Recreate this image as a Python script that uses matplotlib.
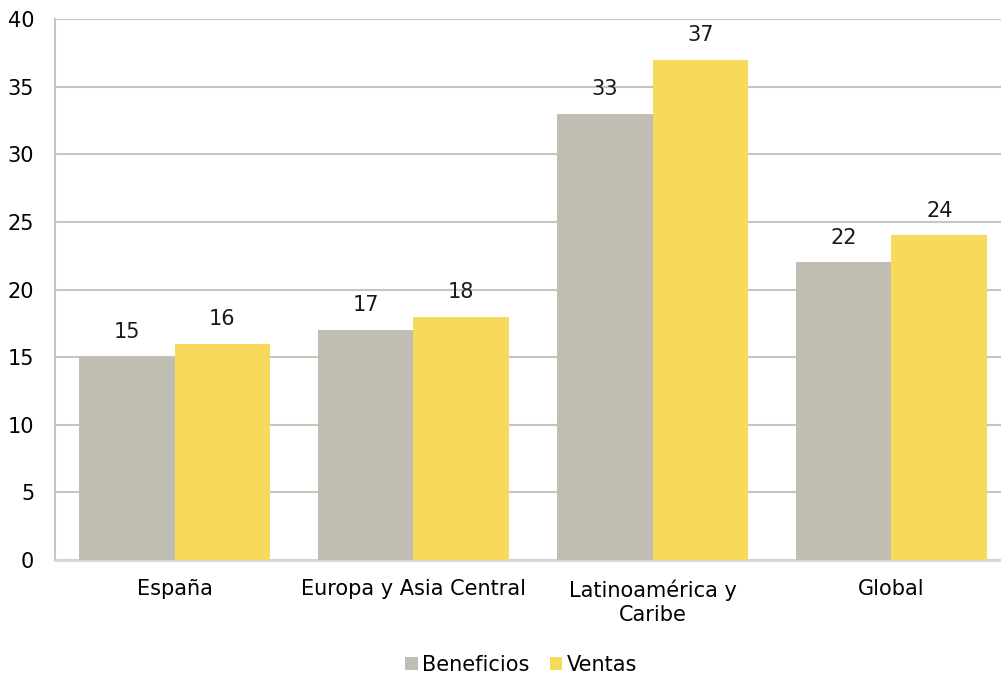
import matplotlib.pyplot as plt
import numpy as np

regions = ["España", "Europa y Asia Central", "Latinoamérica y\nCaribe", "Global"]
beneficios = [15, 17, 33, 22]
ventas = [16, 18, 37, 24]

plt.rcParams["font.family"] = "DejaVu Sans"

fig = plt.figure(figsize=(10.01, 6.79), dpi=100)
ax = fig.add_axes([55 / 1001, 119 / 679, 956 / 1001, 541 / 679])

x = np.arange(len(regions))
w = 0.4
b1 = ax.bar(x - w / 2, beneficios, w, color="#c0bdb2", label="Beneficios", zorder=3)
b2 = ax.bar(x + w / 2, ventas, w, color="#f7da5c", label="Ventas", zorder=3)

for bars in (b1, b2):
    for bar in bars:
        h = bar.get_height()
        ax.text(bar.get_x() + bar.get_width() / 2, h + 1.1, f"{h:g}",
                ha="center", va="bottom", fontsize=15, color="#1a1a1a")

ax.set_xlim(-0.5, 3.5)
ax.set_ylim(0, 40)
ax.set_yticks(range(0, 41, 5))
ax.set_xticks(x)
ax.set_xticklabels(regions, fontsize=15, linespacing=1.25)
ax.tick_params(axis="y", labelsize=15, length=0, pad=15)
ax.tick_params(axis="x", length=0, pad=14)
ax.grid(axis="y", color="#c8c5bb", linewidth=1.5, zorder=0)

for side in ("top", "right"):
    ax.spines[side].set_visible(False)
ax.spines["left"].set_color("#c8c5bb")
ax.spines["left"].set_linewidth(1.5)
ax.spines["bottom"].set_color("#d6d6d6")
ax.spines["bottom"].set_linewidth(2)

fig.legend(handles=[b1, b2], loc="center", bbox_to_anchor=(521 / 1001, 1 - 665 / 679),
           ncol=2, frameon=False, fontsize=15, handlelength=0.6, handleheight=0.6,
           handletextpad=0.2, columnspacing=1.0)

fig.savefig("out.png", dpi=100)
